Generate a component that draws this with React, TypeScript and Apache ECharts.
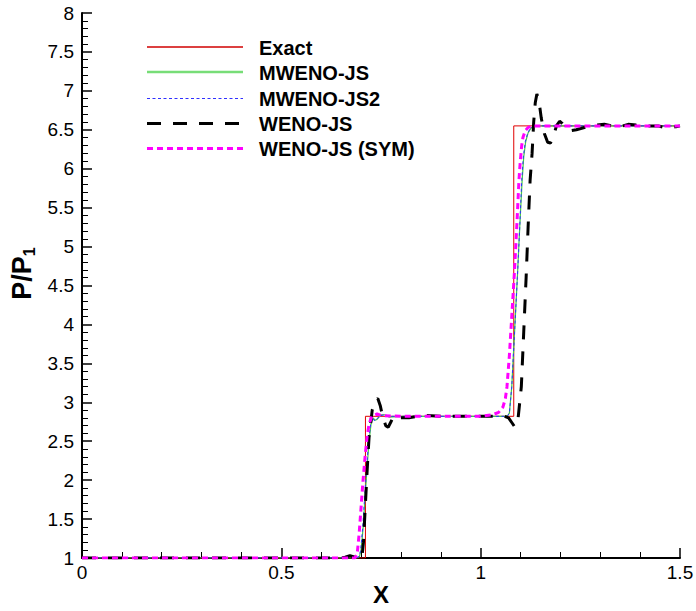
import React, { useEffect, useRef } from "react";
import * as echarts from "echarts";

const seriesNames = ["Exact", "MWENO-JS", "MWENO-JS2", "WENO-JS", "WENO-JS (SYM)"];
const xTicks = [0, 0.5, 1, 1.5];

const exact: number[][] = [
  [0, 1], [0.711, 1], [0.711, 2.82], [1.083, 2.82], [1.083, 6.55], [1.5, 6.55],
];

const mweno: number[][] = [
  [0, 1], [0.69, 1], [0.696, 1.02], [0.70, 1.1], [0.705, 1.38], [0.71, 1.78],
  [0.715, 2.16], [0.72, 2.5], [0.725, 2.72], [0.73, 2.8], [0.735, 2.77], [0.74, 2.78],
  [0.75, 2.84], [0.76, 2.84], [0.77, 2.81], [0.8, 2.82], [1.06, 2.82], [1.068, 2.83],
  [1.072, 2.86], [1.078, 3.2], [1.085, 3.9], [1.092, 4.6], [1.098, 5.25], [1.104, 5.85],
  [1.108, 6.15], [1.113, 6.35], [1.119, 6.46], [1.126, 6.52], [1.135, 6.55], [1.5, 6.55],
];

const mweno2: number[][] = [
  [0, 1], [0.689, 1], [0.695, 1.02], [0.699, 1.1], [0.704, 1.38], [0.709, 1.78],
  [0.714, 2.16], [0.719, 2.5], [0.724, 2.72], [0.729, 2.8], [0.734, 2.76], [0.74, 2.79],
  [0.75, 2.83], [0.76, 2.84], [0.77, 2.82], [0.8, 2.82], [1.06, 2.82], [1.068, 2.83],
  [1.072, 2.86], [1.078, 3.2], [1.085, 3.9], [1.092, 4.6], [1.098, 5.25], [1.103, 5.85],
  [1.107, 6.15], [1.112, 6.35], [1.118, 6.46], [1.125, 6.52], [1.134, 6.55], [1.5, 6.55],
];

const weno: number[][] = [
  [0, 1], [0.65, 1], [0.66, 1.01], [0.672, 1.03], [0.685, 1.01], [0.695, 0.99],
  [0.702, 1.0], [0.706, 1.2], [0.71, 1.6], [0.715, 2.1], [0.72, 2.55], [0.728, 2.9],
  [0.735, 3.02], [0.742, 3.05], [0.748, 2.96], [0.755, 2.8], [0.762, 2.7], [0.768, 2.68],
  [0.775, 2.75], [0.782, 2.82], [0.79, 2.83], [0.8, 2.8], [0.82, 2.8], [0.84, 2.82],
  [0.86, 2.83], [0.9, 2.82], [1.0, 2.82], [1.06, 2.82], [1.07, 2.8], [1.078, 2.74],
  [1.086, 2.68], [1.094, 2.8], [1.102, 3.2], [1.108, 3.9], [1.114, 4.6], [1.119, 5.25],
  [1.124, 5.85], [1.129, 6.2], [1.133, 6.6], [1.137, 6.85], [1.141, 6.96], [1.146, 6.88],
  [1.152, 6.65], [1.16, 6.45], [1.168, 6.34], [1.175, 6.33], [1.182, 6.4], [1.19, 6.55],
  [1.198, 6.61], [1.205, 6.58], [1.215, 6.52], [1.228, 6.49], [1.24, 6.5], [1.26, 6.53],
  [1.29, 6.56], [1.31, 6.57], [1.33, 6.55], [1.35, 6.54], [1.37, 6.57], [1.39, 6.56],
  [1.42, 6.55], [1.445, 6.55], [1.46, 6.53], [1.475, 6.52], [1.49, 6.54], [1.5, 6.55],
];

const wenoSym: number[][] = [
  [0, 1], [0.684, 1], [0.69, 1.04], [0.695, 1.3], [0.70, 1.65], [0.705, 2.0],
  [0.71, 2.3], [0.715, 2.55], [0.72, 2.72], [0.727, 2.82], [0.74, 2.85], [0.75, 2.83],
  [0.8, 2.82], [1.0, 2.82], [1.03, 2.84], [1.045, 2.87], [1.056, 2.94], [1.062, 3.05],
  [1.066, 3.2], [1.072, 3.6], [1.078, 4.1], [1.085, 4.7], [1.091, 5.3], [1.096, 5.85],
  [1.099, 6.07], [1.103, 6.3], [1.106, 6.4], [1.112, 6.49], [1.119, 6.53], [1.13, 6.55],
  [1.5, 6.55],
];

const FONT = "Liberation Sans, Arial, Helvetica, sans-serif";

const styles = [
  { color: "#e00000", width: 1, legendColor: "#d00000", legendWidth: 1.3, dash: null as number[] | null },
  { color: "#44cc44", width: 1.2, legendColor: "#77dd77", legendWidth: 2.5, dash: null },
  { color: "#2f2fff", width: 1, legendColor: "#2f2fff", legendWidth: 1, dash: [3, 2.5] },
  { color: "#000000", width: 3, legendColor: "#000000", legendWidth: 3, dash: [14, 12] },
  { color: "#ff00ff", width: 3, legendColor: "#ff00ff", legendWidth: 3, dash: [6, 4] },
];

export default function App() {
  const ref = useRef<HTMLDivElement>(null);
  useEffect(() => {
    if (!ref.current) return;
    const chart = echarts.init(ref.current, undefined, { renderer: "svg" });
    const datas = [exact, mweno, mweno2, weno, wenoSym];
    const series = seriesNames.map((name, i) => ({
      name,
      type: "line",
      data: datas[i],
      showSymbol: false,
      symbol: "none",
      smooth: false,
      lineStyle: { color: styles[i].color, width: styles[i].width, type: styles[i].dash || "solid" },
      itemStyle: { color: styles[i].color },
    }));
    const legendEls: any[] = [];
    seriesNames.forEach((name, i) => {
      const y = Math.round(47 + i * 25.3);
      const ly = styles[i].legendWidth === 1 || styles[i].legendWidth === 3 ? y + 0.5 : y;
      legendEls.push({
        type: "line",
        shape: { x1: 147, y1: ly, x2: 243, y2: ly },
        style: {
          stroke: styles[i].legendColor,
          lineWidth: styles[i].legendWidth,
          lineDash: styles[i].dash || undefined,
        },
        silent: true,
      });
      legendEls.push({
        type: "text",
        x: 259,
        y: y + 1,
        style: {
          text: name,
          font: `bold 20px ${FONT}`,
          fill: "#000",
          verticalAlign: "middle",
          align: "left",
        },
        silent: true,
      });
    });
    chart.setOption({
      animation: false,
      backgroundColor: "#fff",
      grid: {
        left: 82,
        right: 16,
        top: 13,
        bottom: 53,
        containLabel: false,
        outerBoundsMode: "none",
      },
      graphic: legendEls,
      xAxis: {
        type: "value",
        min: 0,
        max: 1.5,
        interval: 0.5,
        name: "X",
        nameLocation: "middle",
        nameGap: 24,
        nameMoveOverlap: false,
        nameTextStyle: { fontFamily: FONT, fontWeight: "bold", fontSize: 24, color: "#000" },
        axisLine: { show: true, onZero: false, lineStyle: { color: "#000", width: 2 } },
        axisTick: { show: true, inside: true, length: 10, lineStyle: { color: "#000", width: 1.5 } },
        minorTick: { show: true, splitNumber: 5, length: 6, lineStyle: { color: "#000", width: 1 } },
        splitLine: { show: false },
        axisLabel: {
          fontFamily: FONT,
          fontSize: 19,
          color: "#000",
          margin: 5,
          formatter: (v: number) => (xTicks.includes(v) ? String(v) : ""),
        },
      },
      yAxis: {
        type: "value",
        min: 1,
        max: 8,
        interval: 0.5,
        name: "{p|P/P}{s|1}",
        nameLocation: "middle",
        nameGap: 45,
        nameRotate: 90,
        nameMoveOverlap: false,
        nameTextStyle: {
          fontFamily: FONT,
          color: "#000",
          padding: [0, 0, 0, 24],
          rich: {
            p: { fontFamily: FONT, fontWeight: "bold", fontSize: 27, color: "#000" },
            s: { fontFamily: FONT, fontWeight: "bold", fontSize: 16, color: "#000", padding: [14, 0, 0, 0] },
          },
        },
        axisLine: { show: true, onZero: false, lineStyle: { color: "#000", width: 2 } },
        axisTick: { show: true, inside: true, length: 10, lineStyle: { color: "#000", width: 1.5 } },
        minorTick: { show: true, splitNumber: 5, length: 6, lineStyle: { color: "#000", width: 1 } },
        splitLine: { show: false },
        axisLabel: { fontFamily: FONT, fontSize: 19, color: "#000", margin: 8 },
      },
      series,
    });
    return () => chart.dispose();
  }, []);
  return (
    <div
      ref={ref}
      style={{ position: "absolute", left: 0, top: 0, width: 696, height: 611 }}
    />
  );
}
